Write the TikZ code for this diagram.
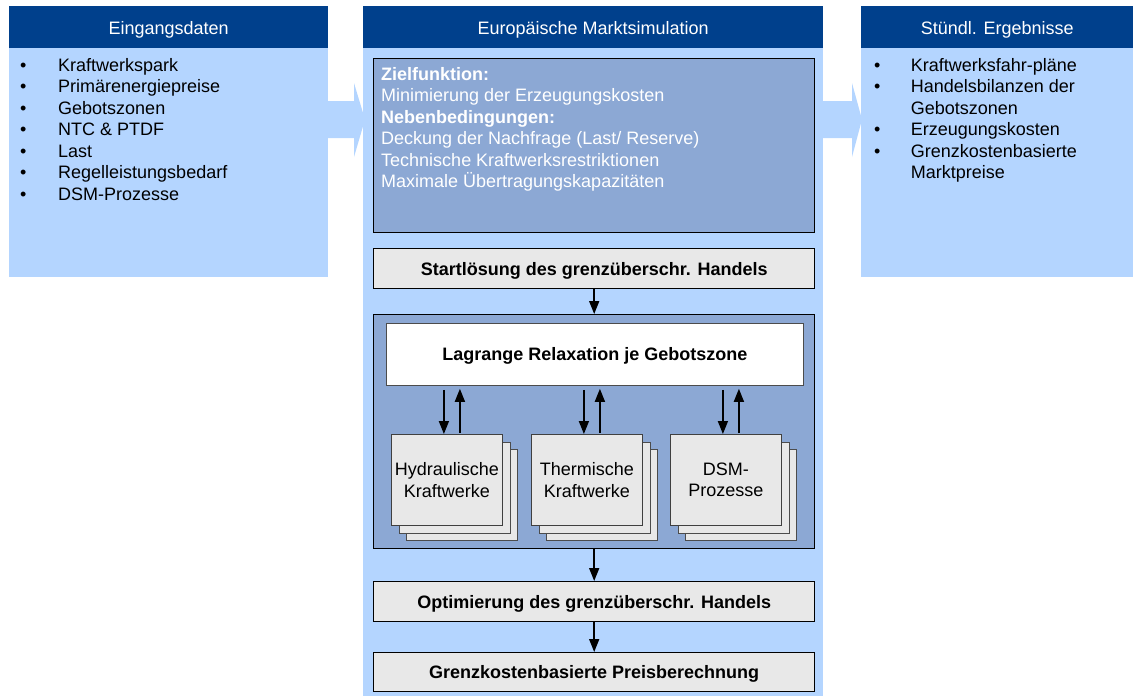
\documentclass[tikz,border=0pt]{standalone}
\usepackage{fontspec}
\setmainfont{Liberation Sans}
\usetikzlibrary{positioning, arrows.meta, calc}

\definecolor{kopfblau}{RGB}{0,64,140}
\definecolor{hellblau}{RGB}{180,213,255}
\definecolor{mittelblau}{RGB}{140,168,212}
\definecolor{kastengrau}{RGB}{232,232,232}

\begin{document}
\begin{tikzpicture}[x=1pt, y=-1pt,
  every node/.style={font=\fontsize{18}{21.5}\selectfont, inner sep=0pt},
  kopf/.style={fill=kopfblau, text=white, minimum height=41.7pt, anchor=north west,
    text height=14pt, text depth=0pt},
  rumpf/.style={fill=hellblau, anchor=north west},
  kasten/.style={draw=black, line width=1.4pt, fill=kastengrau, minimum width=441pt,
    minimum height=40pt, anchor=north west, text height=13pt, text depth=0pt,
    font=\bfseries\fontsize{18}{21.5}\selectfont},
  rahmen/.style={draw=black, line width=1.4pt, fill=mittelblau, minimum width=441pt,
    anchor=north west},
  blatt/.style={draw=gray!60!black, line width=0.8pt, fill=kastengrau, minimum width=111pt,
    minimum height=91pt, anchor=north west, align=center},
  pfeil/.style={-{Triangle[length=13pt, width=10pt]}, line width=1.6pt}]
  \useasboundingbox (0,0) rectangle (1133,696);

  % drei Spalten
  \node[kopf, minimum width=319pt] (einkopf) at (9,6) {Eingangsdaten};
  \node[rumpf, minimum width=319pt, minimum height=229pt] (einrumpf) at (einkopf.south west) {};
  \node[kopf, minimum width=459.7pt] (simkopf) at (363,6) {Europäische Marktsimulation};
  \node[rumpf, minimum width=459.7pt, minimum height=648.3pt] (simrumpf) at (simkopf.south west) {};
  \node[kopf, minimum width=272pt] (auskopf) at (861,6) {Stündl. Ergebnisse};
  \node[rumpf, minimum width=272pt, minimum height=229pt] (ausrumpf) at (auskopf.south west) {};

  % Blockpfeile
  \fill[hellblau] (328,101) -- (354,101) -- (354,83) -- (365,119.5)
    -- (354,157) -- (354,138) -- (328,138) -- cycle;
  \fill[hellblau] (822,101) -- (852,101) -- (852,83) -- (862,119.5)
    -- (852,157) -- (852,138) -- (822,138) -- cycle;

  \node[anchor=base west] (einliste) at (20,71) {%
    \begin{tabular}[t]{@{}p{38pt}@{}l@{}}
      \textbullet & Kraftwerkspark\\
      \textbullet & Primärenergiepreise\\
      \textbullet & Gebotszonen\\
      \textbullet & NTC \& PTDF\\
      \textbullet & Last\\
      \textbullet & Regelleistungsbedarf\\
      \textbullet & DSM-Prozesse
    \end{tabular}};
  \node[anchor=base west] (ausliste) at (874,71) {%
    \begin{tabular}[t]{@{}p{36.7pt}@{}l@{}}
      \textbullet & Kraftwerksfahr-pläne\\
      \textbullet & Handelsbilanzen der\\
                  & Gebotszonen\\
      \textbullet & Erzeugungskosten\\
      \textbullet & Grenzkostenbasierte\\
                  & Marktpreise
    \end{tabular}};

  % Modell
  \node[rahmen, minimum height=174pt] (ziel) at (373,58) {};
  \node[anchor=base west, text=white] (zieltext) at ($(ziel.north west)+(8,22)$) {%
    \begin{tabular}[t]{@{}l@{}}
      \textbf{Zielfunktion:}\\
      Minimierung der Erzeugungskosten\\
      \textbf{Nebenbedingungen:}\\
      Deckung der Nachfrage (Last/ Reserve)\\
      Technische Kraftwerksrestriktionen\\
      Maximale Übertragungskapazitäten
    \end{tabular}};
  \node[kasten] (start) at (373,248) {Startlösung des grenzüberschr. Handels};
  \node[rahmen, minimum height=234pt] (relax) at (373,314) {};
  \node[draw=gray!60!black, line width=0.8pt, fill=white, minimum width=417pt,
    minimum height=62pt, anchor=north west, text height=13pt, text depth=0pt,
    font=\bfseries\fontsize{18}{21.5}\selectfont]
    (lagr) at (386,323) {Lagrange Relaxation je Gebotszone};

  \foreach \name/\xpos/\txt in {hyd/391/{Hydraulische\\Kraftwerke},
      therm/531/{Thermische\\Kraftwerke}, dsm/670/{DSM-\\Prozesse}} {
    \node[blatt] at (\xpos+15,449) {};
    \node[blatt] at (\xpos+7.5,441.5) {};
    \node[blatt, draw=black!75] (\name) at (\xpos,434) {\txt};
    \draw[pfeil, shorten <=4pt] ([xshift=-3pt]lagr.south -| \name.north) -- ([xshift=-3pt]\name.north);
    \draw[pfeil, shorten <=1pt, shorten >=3pt] ([xshift=13pt]\name.north) -- ([xshift=13pt]lagr.south -| \name.north);
  }

  \node[kasten] (opt) at (373,581) {Optimierung des grenzüberschr. Handels};
  \node[kasten, minimum height=39pt] (grenz) at (373,652) {Grenzkostenbasierte Preisberechnung};

  \draw[pfeil] (start.south) -- (relax.north);
  \draw[pfeil] (relax.south) -- (opt.north);
  \draw[pfeil] (opt.south) -- (grenz.north);
\end{tikzpicture}
\end{document}
